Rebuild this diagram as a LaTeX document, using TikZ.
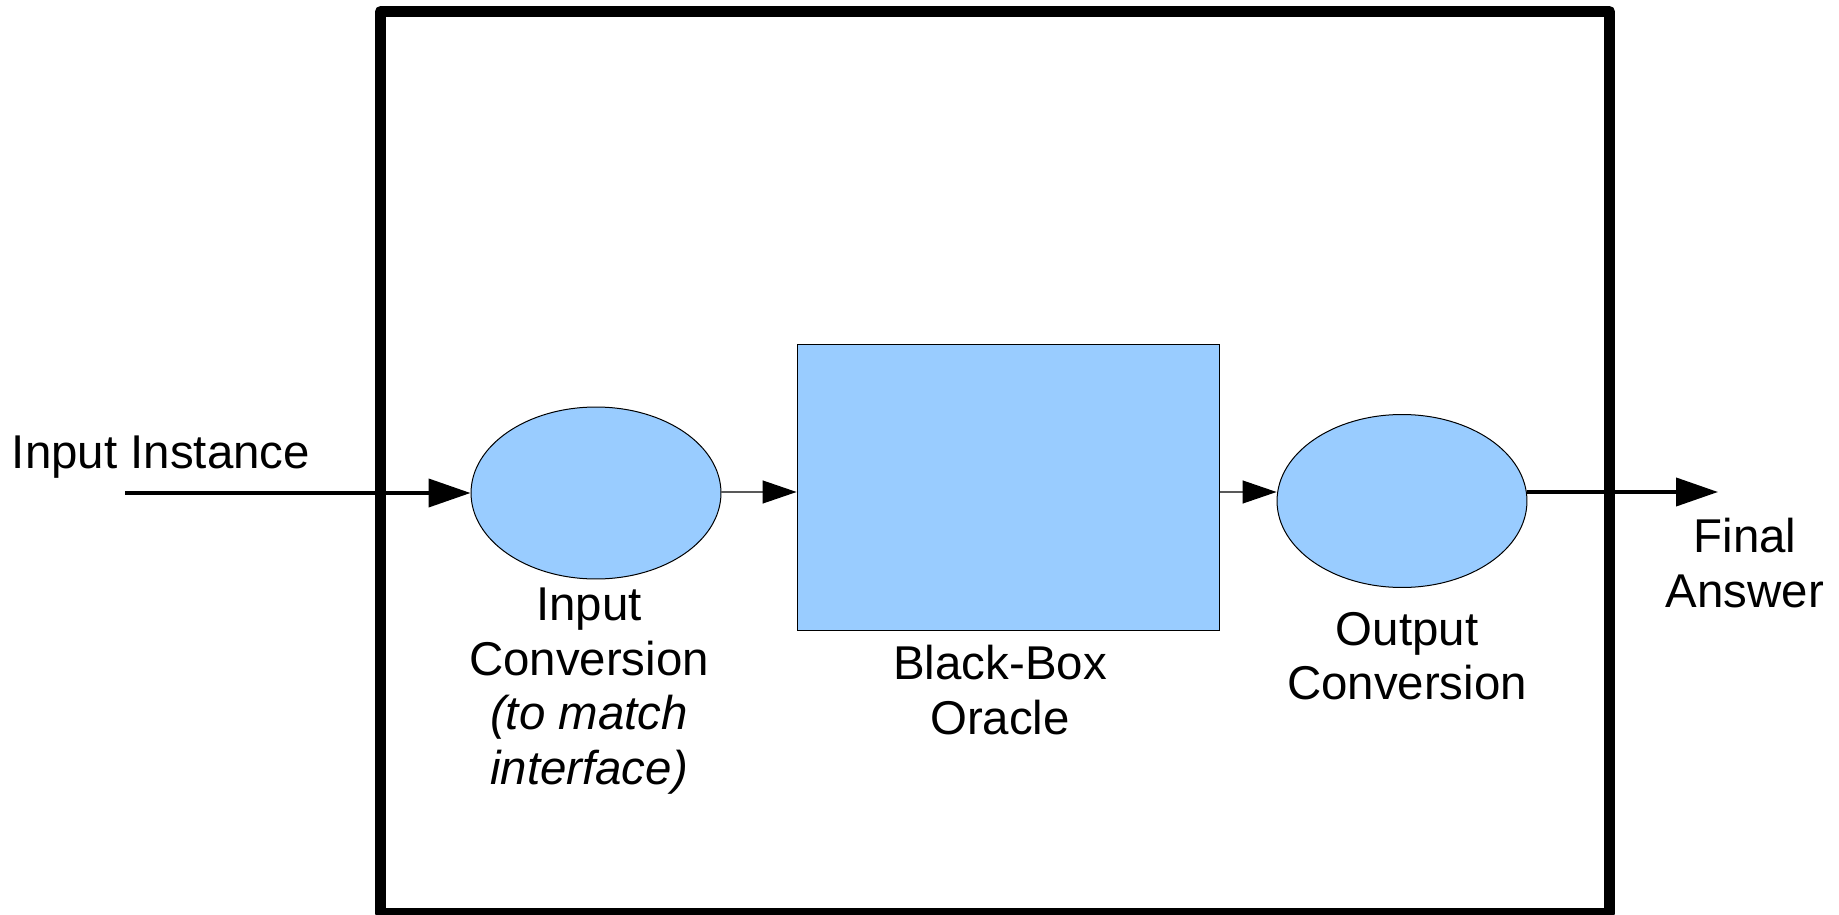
\documentclass[tikz,border=0pt]{standalone}
\usepackage{fontspec}
\setmainfont{Liberation Sans}
\usetikzlibrary{shapes.geometric,arrows.meta}
\definecolor{boxblue}{HTML}{99CCFF}
\begin{document}
\begin{tikzpicture}[x=0.02cm,y=-0.02cm,
  lbl/.style={font=\fontsize{27}{31}\selectfont, align=center, inner sep=0pt},
  bigarrow/.style={line width=0.08cm, -{Triangle[length=0.84cm,width=0.56cm]}},
  smallarrow/.style={line width=0.025cm, draw=black!65, -{Triangle[length=0.68cm,width=0.46cm,fill=black,color=black]}},
  blueshape/.style={fill=boxblue, draw=black, line width=0.02cm, inner sep=0pt}]
\useasboundingbox (0,0) rectangle (1839,915);
% outer frame
\draw[line width=0.22cm, line join=round] (380.5,11.5) rectangle (1609.5,913);
% shapes
\node[blueshape, ellipse, minimum width=5cm, minimum height=3.44cm] (ie) at (596,493) {};
\node[blueshape, rectangle, minimum width=8.46cm, minimum height=5.74cm] (bb) at (1008.5,487.5) {};
\node[blueshape, ellipse, minimum width=5cm, minimum height=3.46cm] (oe) at (1402,501) {};
% free ends
\coordinate (start) at (125,493);
\coordinate (fin) at (1718,492);
% connectors
\draw[bigarrow] (start) -- (ie.west);
\draw[smallarrow] (ie.east |- fin) -- (bb.west |- fin);
\draw[smallarrow] (bb.east |- fin) -- (oe.west |- fin);
\draw[bigarrow] (oe.east |- fin) -- (fin);
% labels
\node[lbl, anchor=base] (tin) at (161,468) {Input Instance};
\node[lbl] (tic) at (589,691) {Input\\Conversion\\\textit{(to match}\\\textit{interface)}};
\node[lbl] (tbb) at (1000,690) {Black-Box\\Oracle};
\node[lbl] (toc) at (1407,656) {Output\\Conversion};
\node[lbl] (tfa) at (1745,563) {Final\\Answer};
\end{tikzpicture}
\end{document}
